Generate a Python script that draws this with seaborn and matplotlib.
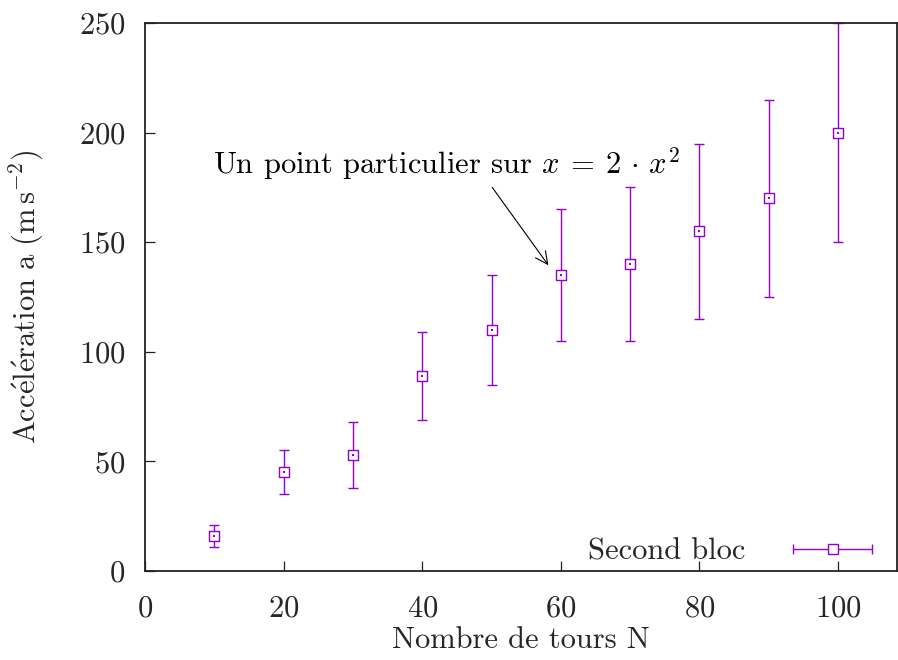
import numpy as np
import pandas as pd
import matplotlib
matplotlib.use("Agg")
import matplotlib.pyplot as plt
import seaborn as sns
from matplotlib.legend_handler import HandlerErrorbar

# ---- data ----
tours = [10, 20, 30, 40, 50, 60, 70, 80, 90, 100]
accel = [16, 45, 53, 89, 110, 135, 140, 155, 170, 200]
accel_err = [5, 10, 15, 20, 25, 30, 35, 40, 45, 50]
series_label = "Second bloc"
x_ticks = [0, 20, 40, 60, 80, 100]
y_ticks = [0, 50, 100, 150, 200, 250]
annot_text = r"Un point particulier sur $x\:=\:2\,\cdot\,x^2$"
arrow_tip = (58.2, 139.5)
arrow_tail = (50.1, 175)
annot_text_xy = (9.8, 186)

df = pd.DataFrame({"N": tours, "a": accel, "err": accel_err})

sns.set_theme(style="white")
plt.rcParams["font.family"] = ["cmr10", "DejaVu Serif"]
plt.rcParams["mathtext.fontset"] = "cm"
plt.rcParams["axes.unicode_minus"] = False
plt.rcParams["axes.formatter.use_mathtext"] = True

PURPLE = "#9400D3"
FS = 22

fig = plt.figure(figsize=(8.98, 6.60), dpi=100)
ax = fig.add_axes([145/898, 1-571/660, (897-145)/898, (571-23)/660])

ax.errorbar(df["N"], df["a"], yerr=df["err"], fmt="none", ecolor=PURPLE,
            elinewidth=1.0, capsize=3.3, capthick=1.0, zorder=2)
sns.scatterplot(data=df, x="N", y="a", marker="s", s=48, color="white",
                edgecolor=PURPLE, linewidth=1.0, ax=ax, zorder=3, legend=False)
sns.scatterplot(data=df, x="N", y="a", marker="s", s=1.2, color=PURPLE,
                edgecolor=PURPLE, linewidth=0, ax=ax, zorder=4, legend=False)

# dummy handle for the legend (horizontal error bar sample)
h = ax.errorbar([-1000], [-1000], xerr=[1], fmt="s", ms=6.9, mfc="white",
                mec=PURPLE, mew=1.0, ecolor=PURPLE, elinewidth=1.0,
                capsize=3.3, capthick=1.0, label=series_label)
leg = ax.legend(handles=[h], loc="lower right", bbox_to_anchor=(0.968, 0.010),
                frameon=False, markerfirst=False, numpoints=1,
                handlelength=2.63, handletextpad=1.55, borderpad=0,
                borderaxespad=0, fontsize=FS,
                handler_map={type(h): HandlerErrorbar(xerr_size=1.3)})

ax.text(annot_text_xy[0], annot_text_xy[1], annot_text, ha="left", va="center",
        fontsize=FS, color="black")
ax.annotate("", xy=arrow_tip, xytext=arrow_tail,
            arrowprops=dict(arrowstyle="->", color="black", lw=0.8,
                            shrinkA=0, shrinkB=0, mutation_scale=22))

ax.set_xlim(0, 108.5)
ax.set_ylim(0, 250)
ax.set_xticks(x_ticks)
ax.set_yticks(y_ticks)
ax.set_xlabel("Nombre de tours N", fontsize=FS, labelpad=3)
ax.set_ylabel(r"$\mathrm{Acc\acute{e}l\acute{e}ration\ a\ (m\,s^{-2})}$", fontsize=FS, labelpad=24)
ax.tick_params(axis="both", direction="in", length=7, width=0.9, color="#222222",
               labelsize=FS, top=False, right=False, bottom=True, left=True)
ax.tick_params(axis="x", pad=17)
ax.tick_params(axis="y", pad=14)
for sp in ax.spines.values():
    sp.set_color("#222222")
    sp.set_linewidth(1.3)
ax.set_facecolor("white")
fig.patch.set_facecolor("white")

fig.savefig("out.png", dpi=100)
